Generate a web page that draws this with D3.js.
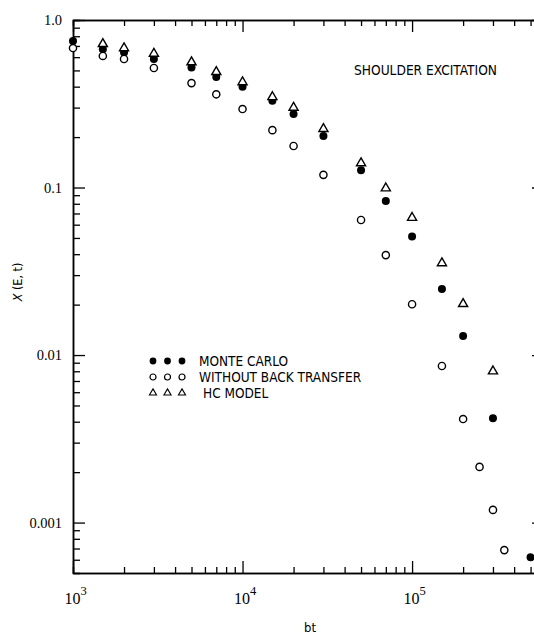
<!DOCTYPE html>
<html>
<head>
<meta charset="utf-8">
<script src="https://cdn.jsdelivr.net/npm/d3@7"></script>
<style>
  body { margin: 0; background: #fff; }
  svg { display: block; }
</style>
</head>
<body>
<div id="chart"></div>
<script>
// data (bt, X(E,t))
var monteCarlo = [
  [1000, 0.75], [1500, 0.67], [2000, 0.64], [3000, 0.585], [5000, 0.52],
  [7000, 0.457], [10000, 0.40], [15000, 0.33], [20000, 0.275], [30000, 0.203],
  [50000, 0.127], [70000, 0.083], [100000, 0.051], [150000, 0.0248],
  [200000, 0.013], [300000, 0.0042], [500000, 0.00062]
];
var noBackTransfer = [
  [1000, 0.68], [1500, 0.61], [2000, 0.585], [3000, 0.517], [5000, 0.42],
  [7000, 0.36], [10000, 0.294], [15000, 0.22], [20000, 0.177], [30000, 0.119],
  [50000, 0.064], [70000, 0.0395], [100000, 0.0201], [150000, 0.0086],
  [200000, 0.00415], [250000, 0.00215], [300000, 0.00119], [350000, 0.000685]
];
var hcModel = [
  [1500, 0.72], [2000, 0.68], [3000, 0.63], [5000, 0.56], [7000, 0.49],
  [10000, 0.426], [15000, 0.347], [20000, 0.30], [30000, 0.224], [50000, 0.14],
  [70000, 0.099], [100000, 0.066], [150000, 0.0354], [200000, 0.0202],
  [300000, 0.008]
];
var xMajor = [1e3, 1e4, 1e5];
var xMajorLabels = ["3", "4", "5"];
var yMajor = [1, 0.1, 0.01, 0.001];
var yMajorLabels = ["1.0", "0.1", "0.01", "0.001"];
var legendLabels = ["MONTE CARLO", "WITHOUT BACK TRANSFER", "HC MODEL"];

var W = 534, H = 635;
// right edge of the frame sits just past the visible picture
var margin = { top: 20, right: -10, bottom: 62, left: 73 };

var svg = d3.select("#chart").append("svg")
  .attr("width", W)
  .attr("height", H);

var x = d3.scaleLog()
  .domain([1e3, 6e5])
  .range([margin.left, W - margin.right]);

var y = d3.scaleLog()
  .domain([5e-4, 1])
  .range([H - margin.bottom, margin.top]);

// minor ticks 2..9 of each decade
function minors(lo, hi) {
  var out = [];
  for (var e = lo; e < hi; e++) {
    for (var m = 2; m <= 9; m++) out.push(m * Math.pow(10, e));
  }
  return out;
}
var xMinor = minors(3, 6).filter(function (v) { return v < 6e5; });
var yMinor = minors(-4, 0).filter(function (v) { return v > 5e-4; });

var serif = "'Liberation Serif', 'Times New Roman', serif";
var sans = "'DejaVu Sans Condensed', 'Liberation Sans Narrow', 'Liberation Sans', Arial, sans-serif";

function styleAxis(g) {
  g.select(".domain").attr("stroke", "#000").attr("stroke-width", 1.5);
  g.selectAll(".tick line").attr("stroke", "#000").attr("stroke-width", 1.3);
}

var bottomY = H - margin.bottom, topY = margin.top;
var leftX = margin.left, rightX = W - margin.right;

// bottom axis
svg.append("g")
  .attr("transform", "translate(0," + bottomY + ")")
  .call(d3.axisBottom(x).tickValues(xMinor).tickSize(-6).tickFormat(""))
  .call(styleAxis);
var xb = svg.append("g")
  .attr("transform", "translate(0," + bottomY + ")")
  .call(d3.axisBottom(x).tickValues(xMajor).tickSize(-12).tickSizeOuter(0).tickFormat(""))
  .call(styleAxis);
xb.selectAll(".tick text").remove();
xb.selectAll(".tick").append("text")
  .attr("y", 31)
  .attr("x", 2)
  .attr("fill", "#000")
  .attr("text-anchor", "middle")
  .style("font-family", serif)
  .style("font-size", "16px")
  .each(function (d, i) {
    var t = d3.select(this);
    t.append("tspan").text("10");
    t.append("tspan").attr("dy", -9).style("font-size", "12.5px").text(xMajorLabels[i]);
  });

// top axis
svg.append("g")
  .attr("transform", "translate(0," + topY + ")")
  .call(d3.axisTop(x).tickValues(xMinor).tickSize(-6).tickFormat(""))
  .call(styleAxis);
svg.append("g")
  .attr("transform", "translate(0," + topY + ")")
  .call(d3.axisTop(x).tickValues(xMajor).tickSize(-12).tickSizeOuter(0).tickFormat(""))
  .call(styleAxis);

// left axis
svg.append("g")
  .attr("transform", "translate(" + leftX + ",0)")
  .call(d3.axisLeft(y).tickValues(yMinor).tickSize(-7).tickFormat(""))
  .call(styleAxis);
var yl = svg.append("g")
  .attr("transform", "translate(" + leftX + ",0)")
  .call(d3.axisLeft(y).tickValues(yMajor).tickSize(-12).tickSizeOuter(0).tickPadding(11)
    .tickFormat(function (d, i) { return yMajorLabels[i]; }))
  .call(styleAxis);
yl.selectAll(".tick text")
  .attr("fill", "#000")
  .style("font-family", serif)
  .style("font-size", "14.5px");

// right axis
svg.append("g")
  .attr("transform", "translate(" + rightX + ",0)")
  .call(d3.axisRight(y).tickValues(yMinor).tickSize(-7).tickFormat(""))
  .call(styleAxis);
svg.append("g")
  .attr("transform", "translate(" + rightX + ",0)")
  .call(d3.axisRight(y).tickValues(yMajor).tickSize(-12).tickSizeOuter(0).tickFormat(""))
  .call(styleAxis);

// points
var tri = d3.symbol().type(d3.symbolTriangle);

svg.append("g").selectAll("circle")
  .data(monteCarlo)
  .enter().append("circle")
  .attr("cx", function (d) { return x(d[0]); })
  .attr("cy", function (d) { return y(d[1]); })
  .attr("r", 4)
  .attr("fill", "#000");

svg.append("g").selectAll("circle")
  .data(noBackTransfer)
  .enter().append("circle")
  .attr("cx", function (d) { return x(d[0]); })
  .attr("cy", function (d) { return y(d[1]); })
  .attr("r", 3.6)
  .attr("fill", "#fff")
  .attr("stroke", "#000")
  .attr("stroke-width", 1.4);

svg.append("g").selectAll("path")
  .data(hcModel)
  .enter().append("path")
  .attr("transform", function (d) { return "translate(" + x(d[0]) + "," + y(d[1]) + ")"; })
  .attr("d", tri.size(36))
  .attr("fill", "#fff")
  .attr("stroke", "#000")
  .attr("stroke-width", 1.4);

// legend
var legend = svg.append("g").attr("transform", "translate(153,361)");
[0, 1, 2].forEach(function (k) {
  var row = legend.append("g").attr("transform", "translate(0," + (k * 16) + ")");
  [0, 14.5, 29].forEach(function (dx) {
    if (k === 0) {
      row.append("circle").attr("cx", dx).attr("cy", 0).attr("r", 3.4).attr("fill", "#000");
    } else if (k === 1) {
      row.append("circle").attr("cx", dx).attr("cy", 0).attr("r", 3)
        .attr("fill", "#fff").attr("stroke", "#000").attr("stroke-width", 1.2);
    } else {
      row.append("path").attr("transform", "translate(" + dx + ",0)")
        .attr("d", tri.size(22)).attr("fill", "#fff")
        .attr("stroke", "#000").attr("stroke-width", 1.1);
    }
  });
  row.append("text")
    .attr("x", k === 2 ? 50 : 46)
    .attr("y", 5)
    .style("font-family", sans)
    .style("font-size", "13.5px")
    .text(legendLabels[k]);
});

// annotation
svg.append("text")
  .attr("x", 354)
  .attr("y", 75)
  .attr("textLength", 143)
  .attr("lengthAdjust", "spacingAndGlyphs")
  .style("font-family", sans)
  .style("font-size", "13.5px")
  .text("SHOULDER EXCITATION");

// axis titles
svg.append("text")
  .attr("x", 310)
  .attr("y", 632)
  .attr("text-anchor", "middle")
  .style("font-family", sans)
  .style("font-size", "13px")
  .text("bt");

var yt = svg.append("text")
  .attr("transform", "translate(22,282) rotate(-90)")
  .attr("text-anchor", "middle")
  .style("font-family", sans)
  .style("font-size", "12.5px");
yt.append("tspan").style("font-style", "italic").text("X");
yt.append("tspan").text(" (E, t)");
</script>
</body>
</html>
